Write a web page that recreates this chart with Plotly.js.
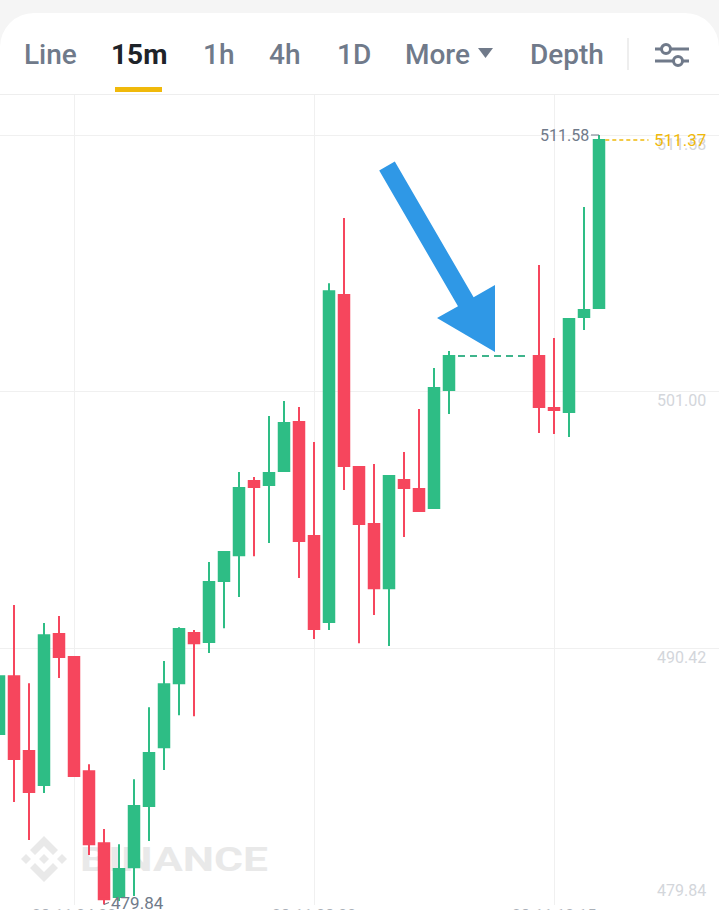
<!DOCTYPE html>
<html><head><meta charset="utf-8">
<script src="https://cdn.plot.ly/plotly-3.0.1.min.js"></script>
<style>
html,body{margin:0;padding:0;width:719px;height:910px;overflow:hidden;background:#fff;font-family:Roboto,"Noto Sans",sans-serif;}
#hdr{position:absolute;left:0;top:0;width:719px;height:95px;background:#f5f5f5;z-index:3;}
#card{position:absolute;left:0;top:13px;width:719px;height:82px;background:#fff;border-radius:34px 34px 0 0;border-bottom:1px solid #eeeeee;box-sizing:border-box;}
.tab{position:absolute;top:41px;font-size:28px;font-weight:500;color:#707a8a;line-height:28px;white-space:nowrap;}
.tab.on{color:#1e2329;font-weight:700;}
#uline{position:absolute;left:115px;top:87px;width:47px;height:5px;background:#F0B90B;}
#sep{position:absolute;left:627px;top:38px;width:2px;height:32px;background:#eeeeee;}
#wm{position:absolute;left:0;top:0;z-index:0;}
#chart{position:absolute;left:0;top:0;width:719px;height:930px;z-index:1;}
#arrow{position:absolute;left:0;top:0;z-index:2;pointer-events:none;}
</style></head>
<body>
<svg id="wm" width="719" height="910">
  <g fill="#e9e9e9" transform="translate(20,835)">
    <polygon points="24,19 29,24 24,29 19,24"/>
    <polygon points="6,19 11,24 6,29 1,24"/>
    <polygon points="42,19 47,24 42,29 37,24"/>
    <polygon points="24,1 38,15 33,20 24,11 15,20 10,15"/>
    <polygon points="24,47 38,33 33,28 24,37 15,28 10,33"/>
  </g>
  <text x="80" y="871" font-family="Roboto" font-weight="700" font-size="34" fill="#e9e9e9" textLength="188" lengthAdjust="spacingAndGlyphs">BINANCE</text>
</svg>
<div id="chart"></div>
<svg id="arrow" width="719" height="910">
  <polygon fill="#2F98E6" points="379.2,170.5 394.8,161.5 473.6,297.3 495,285 495,352 437,318 458,306.3"/>
</svg>
<div id="hdr"><div id="card">
</div>
<span class="tab" style="left:24px">Line</span>
<span class="tab on" style="left:111px">15m</span>
<span class="tab" style="left:203px">1h</span>
<span class="tab" style="left:269px">4h</span>
<span class="tab" style="left:337px">1D</span>
<span class="tab" style="left:405px">More</span>
<svg style="position:absolute;left:477px;top:47px" width="18" height="12"><polygon points="1,1 16,1 8.5,11" fill="#707a8a"/></svg>
<span class="tab" style="left:530px">Depth</span>
<div id="sep"></div>
<svg style="position:absolute;left:653px;top:40px" width="38" height="30">
  <g stroke="#707a8a" stroke-width="3" fill="none">
    <line x1="2" y1="9" x2="36" y2="9"/>
    <line x1="2" y1="21" x2="36" y2="21"/>
  </g>
  <circle cx="13" cy="9" r="4.5" fill="#fff" stroke="#707a8a" stroke-width="3"/>
  <circle cx="25" cy="21" r="4.5" fill="#fff" stroke="#707a8a" stroke-width="3"/>
</svg>
<div id="uline"></div>
</div>
<script>
const idx = [];
for (let i = 0; i <= 40; i++) idx.push(i);
const openP  = [486.87,489.26,486.17,484.77,491.00,490.05,485.34,482.37,480.15,481.38,483.90,486.33,488.97,491.04,490.67,493.18,494.25,497.31,497.14,497.72,499.74,495.04,491.49,504.98,497.89,495.53,492.89,497.35,496.98,496.19,501.06,null,null,null,null,null,502.46,500.32,500.15,504.07,504.44];
const highP  = [489.43,492.19,488.97,491.45,491.74,490.09,485.63,482.95,482.33,485.01,487.98,489.88,491.28,491.16,493.97,494.38,497.68,497.47,499.99,500.61,500.36,498.92,505.47,508.16,497.89,498.01,497.55,498.50,500.28,501.97,502.67,null,null,null,null,null,506.22,503.21,503.99,508.61,511.58];
const lowP   = [486.62,484.07,482.50,484.44,489.18,485.10,481.88,479.84,479.98,480.19,482.46,485.39,487.65,487.61,490.21,491.24,492.52,494.21,494.75,497.72,493.31,490.79,491.16,496.94,490.62,491.78,490.50,495.00,496.07,496.19,500.07,null,null,null,null,null,499.29,499.25,499.12,503.54,504.44];
const closeP = [489.26,485.84,484.48,490.95,490.05,485.14,482.33,480.06,481.30,483.90,486.09,488.93,491.20,490.62,493.14,494.38,497.02,497.06,497.64,499.70,494.83,491.20,505.14,497.93,495.53,492.89,497.51,497.02,496.07,501.14,502.46,null,null,null,null,null,500.36,500.24,503.99,504.36,511.37];
const priceTicks = [479.84, 490.42, 501.00, 511.58];
const timeTickIdx = [5, 21, 37];
const timeLabels = ["28-11 04:00", "28-11 08:00", "28-11 12:15"];

const GREEN = "#2EBD85", RED = "#F6465D";
const valid = idx.filter(i => openP[i] !== null);
const candle = {
  type: "candlestick",
  x: valid, open: valid.map(i => openP[i]), high: valid.map(i => highP[i]),
  low: valid.map(i => lowP[i]), close: valid.map(i => closeP[i]),
  increasing: {line: {color: GREEN, width: 2}, fillcolor: GREEN},
  decreasing: {line: {color: RED, width: 2}, fillcolor: RED},
  whiskerwidth: 0, hoverinfo: "skip", showlegend: false
};
// gap dashed line at last close before gap
let gapStart = -1, gapEnd = -1;
for (let i = 1; i < idx.length; i++) {
  if (openP[i] === null && openP[i-1] !== null) gapStart = i - 1;
  if (openP[i] !== null && openP[i-1] === null) gapEnd = i;
}
const gapLine = {
  type: "scatter", mode: "lines",
  x: [gapStart + 0.6, gapEnd - 0.6], y: [closeP[gapStart], closeP[gapStart]],
  line: {color: "#3fb48c", width: 2, dash: "7px,5px"}, hoverinfo: "skip", showlegend: false
};

const n = idx.length - 1;
const lastClose = closeP[n];
let hiI = 0, loI = 0;
idx.forEach(i => { if (highP[i] !== null && highP[i] > highP[hiI]) hiI = i; if (lowP[i] !== null && lowP[i] < lowP[loI]) loI = i; });

const ann = [];
priceTicks.forEach((v, k) => {
  ann.push({xref: "paper", x: 1, xanchor: "right", xshift: -11, y: v, yref: "y",
    yshift: k === 0 ? 14 : -9, text: v.toFixed(2), showarrow: false,
    font: {family: "Roboto", size: 16, color: "#d3d6db"}});
});
timeTickIdx.forEach((t, k) => {
  ann.push({x: t, xref: "x", y: 0, yref: "paper", yanchor: "middle", yshift: -10,
    text: timeLabels[k], showarrow: false, font: {family: "Roboto", size: 16, color: "#aab0b8"}});
});
ann.push({xref: "paper", x: 1, xanchor: "right", xshift: -11, y: lastClose, yref: "y",
  text: lastClose.toFixed(2), showarrow: false, font: {family: "Roboto", size: 17, color: "#F0B90B"}});
ann.push({x: hiI, y: highP[hiI], text: highP[hiI].toFixed(2), showarrow: true, arrowhead: 0,
  arrowwidth: 1.2, arrowcolor: "#707a8a", ax: -8, ay: 0, standoff: 0, xanchor: "right",
  font: {family: "Roboto", size: 16, color: "#707a8a"}});
ann.push({x: loI, y: lowP[loI], text: lowP[loI].toFixed(2), showarrow: true, arrowhead: 0,
  arrowwidth: 1.2, arrowcolor: "#707a8a", ax: 5, ay: -2, standoff: 0, xanchor: "left",
  font: {family: "Roboto", size: 17, color: "#707a8a"}});

const layout = {
  width: 719, height: 930,
  margin: {l: 0, r: 0, t: 95, b: 25, pad: 0},
  paper_bgcolor: "rgba(0,0,0,0)", plot_bgcolor: "rgba(0,0,0,0)",
  boxgap: 0.3, boxgroupgap: 0,
  showlegend: false, hovermode: false,
  xaxis: {range: [1/15, 1/15 + 719/15], rangeslider: {visible: false},
    tickvals: timeTickIdx, showticklabels: false, showgrid: true, gridcolor: "#f0f0f0", gridwidth: 1,
    zeroline: false, showline: false, ticks: ""},
  yaxis: {range: [479.82, 513.23], tickvals: priceTicks, showticklabels: false,
    showgrid: true, gridcolor: "#f0f0f0", gridwidth: 1, zeroline: false, showline: false, ticks: ""},
  shapes: [{type: "line", xref: "x", yref: "y", x0: n + 0.42, x1: n + 3.3, y0: lastClose, y1: lastClose,
    line: {color: "#F0B90B", width: 1.5, dash: "4px,3px"}}],
  annotations: ann
};
Plotly.newPlot("chart", [candle, gapLine], layout, {staticPlot: true, displayModeBar: false});
</script>
</body></html>
